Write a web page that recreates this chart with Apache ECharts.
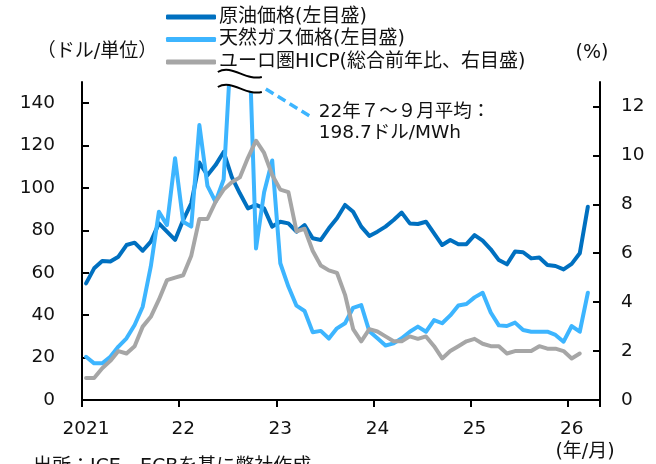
<!DOCTYPE html>
<html><head><meta charset="utf-8">
<script src="https://cdn.jsdelivr.net/npm/echarts@6/dist/echarts.min.js"></script>
<style>html,body{margin:0;padding:0;background:#fff}#c{width:656px;height:464px}</style>
</head><body><div id="c"></div>
<script>
// ---- data (monthly, Jan 2021 – Apr 2026 axis) ----
const categories = [
 '2021/01','2021/02','2021/03','2021/04','2021/05','2021/06','2021/07','2021/08','2021/09','2021/10','2021/11','2021/12',
 '2022/01','2022/02','2022/03','2022/04','2022/05','2022/06','2022/07','2022/08','2022/09','2022/10','2022/11','2022/12',
 '2023/01','2023/02','2023/03','2023/04','2023/05','2023/06','2023/07','2023/08','2023/09','2023/10','2023/11','2023/12',
 '2024/01','2024/02','2024/03','2024/04','2024/05','2024/06','2024/07','2024/08','2024/09','2024/10','2024/11','2024/12',
 '2025/01','2025/02','2025/03','2025/04','2025/05','2025/06','2025/07','2025/08','2025/09','2025/10','2025/11','2025/12',
 '2026/01','2026/02','2026/03','2026/04'
];
const yearTickLabels = ['2021','22','23','24','25','26'];
const leftTicks = [0,20,40,60,80,100,120,140];
const rightTicks = [0,2,4,6,8,10,12];

const oil = [
 55.0,62.1,65.6,65.3,67.6,73.1,74.2,70.4,74.7,83.3,79.4,75.5,
 84.9,92.8,112,106,110.8,117,105.3,97.5,90.4,92,90.4,81.8,
 84.1,83.3,79.4,82.5,76.3,75.5,81,85.7,92,88.8,81.8,77.4,
 79.4,81.8,84.9,88.4,83.3,83,84.1,78.6,73.1,75.5,73.5,73.5,
 77.8,75.2,71.1,66,64,70,69.7,66.8,67.2,63.7,63.2,61.6,
 64.2,69.2,91.2
];
const gas = [
 20.4,17.3,17.3,20.4,25.2,29.1,35.4,44,63,88.8,82.5,114,
 84.1,81.8,129.7,101,93.5,104,172,236,188,71.5,98,113,
 64.5,53.5,44.5,42,32,32.6,29,33.8,36.2,43.5,44.8,32.4,
 29.1,25.7,26.7,29.1,32.2,34.6,32.2,37.7,36.2,39.9,44.6,45.3,
 48.4,50.6,41.3,35.2,34.9,36.5,33,32.2,32.2,32.2,30.7,27.5,
 34.9,32.2,50.6
];
const hicp = [
 0.9,0.9,1.3,1.6,2.0,1.9,2.2,3.0,3.4,4.1,4.9,5.0,
 5.1,5.9,7.4,7.4,8.1,8.6,8.9,9.1,9.9,10.6,10.1,9.2,
 8.6,8.5,6.9,7.0,6.1,5.5,5.3,5.2,4.3,2.9,2.4,2.9,
 2.8,2.6,2.4,2.4,2.6,2.5,2.6,2.2,1.7,2.0,2.2,2.4,
 2.5,2.3,2.2,2.2,1.9,2.0,2.0,2.0,2.2,2.1,2.1,2.0,
 1.7,1.9
];
const seriesNames = ['原油価格(左目盛)','天然ガス価格(左目盛)','ユーロ圏HICP(総合前年比、右目盛)'];
const gasNote = ['22年７～９月平均：','198.7ドル/MWh'];
const gasNoteCategory = '2022/08';

// ---- styling ----
const FONT = "'DejaVu Sans','Noto Sans CJK JP',sans-serif";
const C_OIL = '#0070C0', C_GAS = '#3DB5FF', C_HICP = '#A6A6A6';
const TXT = '#111';

const chart = echarts.init(document.getElementById('c'), null, {renderer:'canvas'});
const axisLineStyle = {color:'#000', width:2};

chart.setOption({
  animation:false,
  backgroundColor:'#fff',
  textStyle:{fontFamily:FONT},
  grid:{left:82, right:56, top:82, bottom:64, containLabel:false, outerBoundsMode:'none'},
  legend:{
    orient:'vertical', left:161, top:2, itemWidth:50, itemHeight:5, itemGap:2.5,
    icon:'roundRect', selectedMode:false,
    textStyle:{fontSize:19, color:TXT, fontFamily:FONT, lineHeight:20, padding:[0,0,0,-2]},
    data:seriesNames
  },
  xAxis:{
    type:'category', data:categories, boundaryGap:true,
    axisLine:{show:true, lineStyle:axisLineStyle},
    axisTick:{show:true, inside:false, length:7, interval:11, lineStyle:{color:'#000', width:2}},
    axisLabel:{interval:11, margin:20, fontSize:18.5, color:TXT, fontFamily:FONT,
      formatter:(v, i) => yearTickLabels[Math.round(i/12)] || ''},
    splitLine:{show:false}
  },
  yAxis:[
    {type:'value', min:0, max:150, interval:20, position:'left',
     axisLine:{show:true, lineStyle:axisLineStyle},
     axisTick:{show:true, inside:true, length:7, lineStyle:{color:'#000', width:2}, customValues:leftTicks},
     axisLabel:{margin:27, fontSize:18.5, color:TXT, fontFamily:FONT, customValues:leftTicks},
     splitLine:{show:false}},
    {type:'value', min:0, max:13, interval:2, position:'right',
     axisLine:{show:true, lineStyle:axisLineStyle},
     axisTick:{show:true, inside:true, length:7, lineStyle:{color:'#000', width:2}, customValues:rightTicks},
     axisLabel:{margin:21, fontSize:18.5, color:TXT, fontFamily:FONT, customValues:rightTicks},
     splitLine:{show:false}}
  ],
  series:[
    {name:seriesNames[0], type:'line', data:oil, yAxisIndex:0, showSymbol:false, symbol:'none',
     lineStyle:{width:4, color:C_OIL, join:'round', cap:'round'}, itemStyle:{color:C_OIL}, z:2},
    {name:seriesNames[1], type:'line', data:gas, yAxisIndex:0, showSymbol:false, symbol:'none',
     lineStyle:{width:4, color:C_GAS, join:'round', cap:'round'}, itemStyle:{color:C_GAS}, z:3},
    {name:seriesNames[2], type:'line', data:hicp, yAxisIndex:1, showSymbol:false, symbol:'none',
     lineStyle:{width:4, color:C_HICP, join:'round', cap:'round'}, itemStyle:{color:C_HICP}, z:4}
  ]
});

// ---- annotations: axis break mark, leader line and note, unit labels ----
const anchor = chart.convertToPixel({xAxisIndex:0, yAxisIndex:0}, [gasNoteCategory, 150]);
const bx = anchor[0], by = anchor[1];
// tilde-shaped wave as cubic bezier, offset dy from the top of the plot
const waveShape = (dy) => ({x1:bx-22, y1:by+dy+5, cpx1:bx-8, cpy1:by+dy-3, cpx2:bx+6, cpy2:by+dy+14, x2:bx+22, y2:by+dy+10});
const bez = (s, t) => {
  const u = 1 - t;
  return [u*u*u*s.x1 + 3*u*u*t*s.cpx1 + 3*u*t*t*s.cpx2 + t*t*t*s.x2,
          u*u*u*s.y1 + 3*u*u*t*s.cpy1 + 3*u*t*t*s.cpy2 + t*t*t*s.y2];
};
const upper = waveShape(-15), lower = waveShape(0);
const coverPts = [];
for (let k = 0; k <= 20; k++) coverPts.push(bez(upper, k/20));
for (let k = 20; k >= 0; k--) coverPts.push(bez(lower, k/20));

const txt = (x, y, s, extra) => ({type:'text', x:x, y:y, z:100,
  style:Object.assign({text:s, fill:TXT, font:`18px ${FONT}`, textVerticalAlign:'middle'}, extra||{})});

chart.setOption({graphic:[
  {type:'polygon', z:90, shape:{points:coverPts}, style:{fill:'#fff'}},
  {type:'bezierCurve', z:91, shape:upper, style:{fill:null, stroke:'#000', lineWidth:2}},
  {type:'bezierCurve', z:91, shape:lower, style:{fill:null, stroke:'#000', lineWidth:2}},
  {type:'line', z:91, shape:{x1:bx+26, y1:by+7, x2:bx+73, y2:by+36},
   style:{stroke:C_GAS, lineWidth:3.5, lineDash:[9,5]}},
  txt(bx+79, by+30, gasNote[0], {font:`18.5px ${FONT}`}),
  txt(bx+79, by+51, gasNote[1], {font:`18.5px ${FONT}`}),
  txt(97, 52, '（ドル/単位）', {textAlign:'center', font:`19px ${FONT}`}),
  txt(592, 53, '(%)', {textAlign:'center', font:`19px ${FONT}`}),
  txt(585, 452, '(年/月)', {textAlign:'center', font:`19px ${FONT}`}),
  txt(33, 467, '出所：ICE、ECBを基に弊社作成', {font:`19px ${FONT}`})
]});
</script></body></html>
